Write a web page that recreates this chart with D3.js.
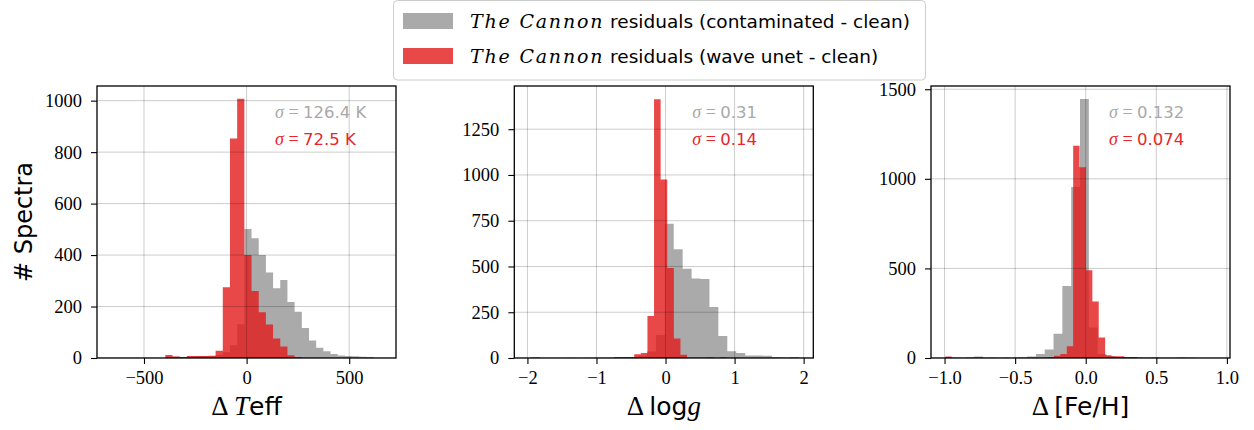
<!DOCTYPE html>
<html><head><meta charset="utf-8">
<script src="https://cdn.jsdelivr.net/npm/d3@7"></script>
<style>body{margin:0;background:#fff} svg{display:block}</style>
</head><body>
<svg id="chart" width="1254" height="430"></svg>
<script>
// ---------- data ----------
const seriesNames = ["residuals (contaminated - clean)", "residuals (wave unet - clean)"];

// Panel 1: Delta Teff (common bins)
const teffBinStart = -396, teffBinWidth = 35;
const teffGray = [3,5,4,6,7,8,8,12,22,50,131,501,465,400,332,271,303,218,180,117,68,40,26,16,10,8,7,5,4];
const teffRed  = [12,6,4,8,8,8,9,28,275,853,1007,400,260,178,130,76,45,11,4,0,0,0,0,0,0,0,0,0,0];

// Panel 2: Delta log g
const loggGrayStart = -1.95, loggGrayWidth = 0.1293;
const loggGray = [5,0,0,0,1,0,1,1,2,3,4,6,12,35,125,734,594,488,434,432,278,120,37,27,14,13,12,6,3,6];
const loggRedStart = -0.74, loggRedWidth = 0.0956;
const loggRed = [5,5,6,20,28,230,1414,975,492,106,18,2,1,2,4,0,4];

// Panel 3: Delta [Fe/H]
const fehGrayStart = -0.978, fehGrayWidth = 0.0625;
const fehGray = [1,2,4,8,3,2,2,2,3,8,22,47,136,402,955,1445,170,22,10,6,5,4,3,4,2,2,4,3];
const fehRedStart = -0.995, fehRedWidth = 0.0453;
const fehRed = [8,1,0,0,1,1,0,1,0,1,0,1,1,2,2,3,5,12,22,65,1184,1065,490,315,115,15,10,10,5,5];

// axes
const xDomains = [[-729, 728], [-2.19, 2.14], [-1.096, 1.022]];
const yMaxes = [1057, 1486, 1518];
const xTicks = [[-500, 0, 500], [-2, -1, 0, 1, 2], [-1.0, -0.5, 0.0, 0.5, 1.0]];
const yTicks = [[0, 200, 400, 600, 800, 1000], [0, 250, 500, 750, 1000, 1250], [0, 500, 1000, 1500]];
const xTickDecimals = [0, 0, 1];
const sigmaGray = ["126.4 K", "0.31", "0.132"];
const sigmaRed = ["72.5 K", "0.14", "0.074"];

// ---------- layout & style ----------
const panelLefts = [97, 514.3, 931];
const panelTop = 86, panelW = 299, panelH = 272;
const grayColor = "#aaaaaa";
const redColor = "#e41a1c";
const grayText = "#a9a9a9";
const redText = "#e8262b";
const serif = "'Liberation Serif', 'DejaVu Serif', serif";
const sans = "'DejaVu Sans', sans-serif";

const svg = d3.select("#chart");

const panels = [
  { gray: {start: teffBinStart, width: teffBinWidth, counts: teffGray},
    red:  {start: teffBinStart, width: teffBinWidth, counts: teffRed} },
  { gray: {start: loggGrayStart, width: loggGrayWidth, counts: loggGray},
    red:  {start: loggRedStart, width: loggRedWidth, counts: loggRed} },
  { gray: {start: fehGrayStart, width: fehGrayWidth, counts: fehGray},
    red:  {start: fehRedStart, width: fehRedWidth, counts: fehRed} }
];

function stepPoints(s) {
  const pts = s.counts.map((c, j) => ({x: s.start + j * s.width, c}));
  pts.push({x: s.start + s.counts.length * s.width, c: s.counts[s.counts.length - 1]});
  return pts;
}
function fmtTick(v, dec) {
  const s = Math.abs(v).toFixed(dec);
  return (v < 0 ? "\u2212" : "") + s;
}

panels.forEach((p, i) => {
  const L = panelLefts[i];
  const g = svg.append("g").attr("transform", `translate(${L},${panelTop})`);
  const x = d3.scaleLinear().domain(xDomains[i]).range([0, panelW]);
  const y = d3.scaleLinear().domain([0, yMaxes[i]]).range([panelH, 0]);

  g.append("clipPath").attr("id", "clip" + i)
    .append("rect").attr("width", panelW).attr("height", panelH);
  const plot = g.append("g").attr("clip-path", `url(#clip${i})`);

  const area = d3.area().curve(d3.curveStepAfter)
    .x(d => x(d.x)).y0(y(0)).y1(d => y(d.c));

  [["gray", grayColor, 1], ["red", redColor, 0.8]].forEach(([key, col, op]) => {
    plot.append("path").datum(stepPoints(p[key]))
      .attr("d", area).attr("fill", col).attr("fill-opacity", op);
  });

  // grid (above bars, like matplotlib default)
  plot.append("g").selectAll("line").data(xTicks[i]).join("line")
    .attr("x1", d => x(d)).attr("x2", d => x(d)).attr("y1", 0).attr("y2", panelH)
    .attr("stroke", "#000").attr("stroke-opacity", 0.2).attr("stroke-width", 1);
  plot.append("g").selectAll("line").data(yTicks[i]).join("line")
    .attr("x1", 0).attr("x2", panelW).attr("y1", d => y(d)).attr("y2", d => y(d))
    .attr("stroke", "#000").attr("stroke-opacity", 0.2).attr("stroke-width", 1);

  // axes
  const xa = g.append("g").attr("transform", `translate(0,${panelH})`)
    .call(d3.axisBottom(x).tickValues(xTicks[i]).tickFormat(d => fmtTick(d, xTickDecimals[i]))
      .tickSize(6).tickPadding(7));
  const ya = g.append("g")
    .call(d3.axisLeft(y).tickValues(yTicks[i]).tickFormat(d => String(d)).tickSize(6).tickPadding(9));
  [xa, ya].forEach(a => {
    a.select(".domain").remove();
    a.selectAll(".tick line").attr("stroke", "#000").attr("stroke-width", 1.1);
    a.selectAll(".tick text").attr("font-family", serif).attr("font-size", 18.5).attr("fill", "#000");
  });

  // frame
  g.append("rect").attr("width", panelW).attr("height", panelH)
    .attr("fill", "none").attr("stroke", "#000").attr("stroke-width", 1.3);

  // sigma annotations
  [[sigmaGray[i], grayText, 32.3], [sigmaRed[i], redText, 59]].forEach(([val, col, by]) => {
    const t = g.append("text").attr("x", 178).attr("y", by).attr("fill", col).attr("font-size", 16.5);
    t.append("tspan").attr("font-family", serif).attr("font-style", "italic").attr("font-size", 18).text("\u03C3");
    t.append("tspan").attr("font-family", serif).attr("font-size", 18).text(" = ");
    t.append("tspan").attr("font-family", sans).text(val);
  });
});

// x labels
const xl = [
  [["\u0394 ", serif, "normal"], ["T", serif, "italic"], ["eff", sans, "normal"]],
  [["\u0394 ", serif, "normal"], ["log", sans, "normal"], ["g", serif, "italic"]],
  [["\u0394 ", serif, "normal"], ["[Fe/H]", sans, "normal"]]
];
xl.forEach((parts, i) => {
  const t = svg.append("text").attr("x", panelLefts[i] + panelW / 2).attr("y", 415)
    .attr("text-anchor", "middle").attr("font-size", 25).attr("fill", "#000");
  parts.forEach(([s, f, st]) => t.append("tspan").attr("font-family", f).attr("font-style", st)
    .attr("font-size", f === serif ? 27 : 25).text(s));
});

// y label
svg.append("text").attr("transform", "translate(32,222) rotate(-90)")
  .attr("text-anchor", "middle").attr("font-family", sans).attr("font-size", 24)
  .attr("fill", "#000").text("# Spectra");

// legend
const lg = svg.append("g");
lg.append("rect").attr("x", 393.5).attr("y", 0.5).attr("width", 532).attr("height", 79.5)
  .attr("rx", 4).attr("fill", "#fff").attr("fill-opacity", 0.8)
  .attr("stroke", "#cccccc").attr("stroke-width", 1);
[[grayColor, 1, 13], [redColor, 0.8, 48]].forEach(([col, op, py], k) => {
  lg.append("rect").attr("x", 403).attr("y", py).attr("width", 50).attr("height", 16)
    .attr("fill", col).attr("fill-opacity", op);
  const t = lg.append("text").attr("x", 470).attr("y", py + 14.5).attr("fill", "#000");
  t.append("tspan").attr("font-family", "'DejaVu Serif', serif").attr("font-style", "italic")
    .attr("font-size", 19).attr("letter-spacing", 1.8).text("The Cannon");
  t.append("tspan").attr("font-family", sans).attr("font-size", 18.5).text(" " + seriesNames[k]);
});
</script>
</body></html>
